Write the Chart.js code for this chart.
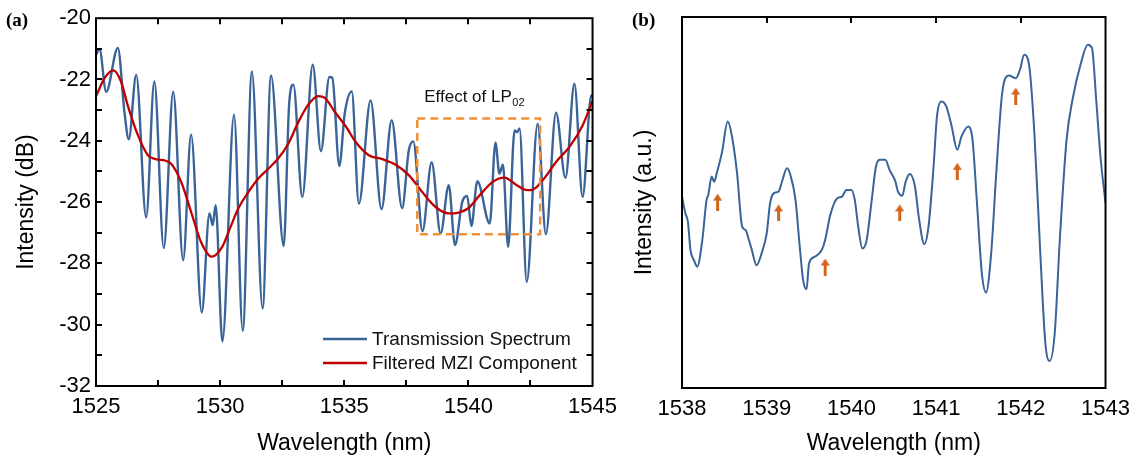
<!DOCTYPE html>
<html>
<head>
<meta charset="utf-8">
<script src="https://cdn.jsdelivr.net/npm/chart.js@4.4.1/dist/chart.umd.min.js"></script>
<style>
html,body{margin:0;padding:0;background:#fff;width:1138px;height:464px;overflow:hidden;}
#wa{position:absolute;left:0;top:0;width:625px;height:464px;}
#wb{position:absolute;left:600px;top:0;width:538px;height:464px;}
</style>
</head>
<body>
<div id="wa"><canvas id="ca"></canvas></div>
<div id="wb"><canvas id="cb"></canvas></div>
<script>
// ---------- Panel (a) data ----------
const wlA = [1525.00,1525.14,1525.41,1525.88,1526.15,1526.32,1526.62,1527.02,1527.35,1527.73,1528.11,1528.51,1528.83,1529.26,1529.57,1529.70,1529.82,1530.09,1530.56,1530.91,1531.28,1531.71,1532.05,1532.56,1532.78,1532.95,1533.31,1533.73,1534.06,1534.40,1534.52,1534.80,1535.02,1535.30,1535.59,1536.06,1536.50,1536.91,1537.33,1537.60,1537.78,1538.15,1538.52,1538.88,1539.21,1539.46,1539.75,1539.95,1540.12,1540.36,1540.86,1541.09,1541.25,1541.39,1541.60,1541.86,1541.96,1542.06,1542.35,1542.79,1543.12,1543.53,1543.91,1544.27,1544.60,1544.95,1545.00];
const transA = [-21.2,-21.0,-22.4,-20.97,-23.1,-23.95,-21.85,-26.5,-22.06,-27.5,-22.4,-27.9,-23.8,-29.6,-26.37,-26.75,-26.1,-30.55,-23.15,-30.2,-21.74,-29.47,-21.87,-27.43,-22.8,-22.17,-25.83,-21.52,-24.34,-21.92,-21.95,-24.82,-23.1,-22.39,-26.05,-22.68,-26.23,-23.33,-26.2,-24.31,-24.02,-26.95,-24.7,-27.02,-25.45,-27.4,-26.0,-25.8,-26.78,-25.32,-26.7,-24.06,-25.07,-24.78,-27.46,-23.66,-23.72,-23.6,-28.6,-23.44,-27.05,-23.08,-25.21,-22.14,-25.83,-22.52,-22.6];
const wlFilt = [1525.00,1525.35,1525.70,1526.00,1526.28,1526.68,1527.09,1527.40,1527.80,1528.02,1528.43,1528.83,1529.23,1529.66,1530.09,1530.40,1530.73,1531.14,1531.54,1531.94,1532.34,1532.75,1533.15,1533.55,1533.95,1534.22,1534.62,1535.08,1535.46,1535.99,1536.53,1537.07,1537.60,1538.14,1538.68,1539.21,1539.61,1540.00,1540.45,1540.98,1541.45,1541.92,1542.30,1542.53,1543.00,1543.53,1544.07,1544.60,1545.00];
const filtA = [-22.55,-21.95,-21.70,-22.05,-22.85,-23.80,-24.47,-24.60,-24.65,-24.74,-25.34,-26.32,-27.30,-27.78,-27.45,-26.85,-26.21,-25.67,-25.23,-24.91,-24.58,-24.09,-23.39,-22.82,-22.54,-22.60,-23.06,-23.55,-24.04,-24.47,-24.60,-24.78,-25.12,-25.67,-26.16,-26.37,-26.34,-26.20,-25.78,-25.34,-25.20,-25.43,-25.60,-25.61,-25.28,-24.69,-24.20,-23.50,-22.70];
const boxWl = [1537.94,1542.89,1542.89,1537.94,1537.94];
const boxDb = [-23.27,-23.27,-27.05,-27.05,-23.27];
const noteWl = 1538.22, noteDb = -22.74;
const seriesNames = ['Transmission Spectrum','Filtered MZI Component'];

// ---------- Panel (b) data ----------
const wlB = [1538.00,1538.04,1538.07,1538.10,1538.14,1538.18,1538.24,1538.29,1538.31,1538.35,1538.38,1538.41,1538.47,1538.54,1538.59,1538.65,1538.71,1538.75,1538.79,1538.82,1538.88,1538.94,1539.00,1539.04,1539.10,1539.14,1539.18,1539.24,1539.28,1539.34,1539.39,1539.43,1539.47,1539.50,1539.57,1539.65,1539.69,1539.75,1539.83,1539.89,1539.94,1540.00,1540.04,1540.08,1540.13,1540.18,1540.24,1540.29,1540.34,1540.40,1540.45,1540.52,1540.55,1540.60,1540.64,1540.69,1540.75,1540.80,1540.86,1540.91,1540.97,1541.01,1541.06,1541.12,1541.18,1541.25,1541.30,1541.38,1541.43,1541.48,1541.54,1541.59,1541.65,1541.71,1541.78,1541.86,1541.94,1541.99,1542.04,1542.10,1542.16,1542.23,1542.29,1542.34,1542.40,1542.46,1542.54,1542.61,1542.71,1542.79,1542.84,1542.89,1542.94,1543.00];
const intB = [51.6,47.1,44.8,37.2,34.5,32.7,39.9,50.7,52.0,57.0,55.6,57.9,63.3,71.8,67.8,57.9,43.5,42.6,39.9,37.6,33.1,36.3,41.7,49.8,52.7,52.9,55.6,59.2,57.4,50.7,38.1,29.1,26.6,33.6,35.4,37.2,39.9,46.6,51.1,51.6,53.4,53.4,50.7,43.5,37.6,39.9,50.7,59.7,61.5,61.5,58.8,55.6,52.9,51.8,55.6,57.7,54.3,45.3,38.8,43.5,59.7,73.2,77.2,75.9,70.9,64.2,67.8,70.5,66.9,50.7,30.9,25.7,36.3,57.9,79.5,84.2,83.5,85.8,89.8,86.7,68.7,36.3,12.0,7.3,14.7,39.9,66.9,77.7,87.6,92.5,91.6,77.7,62.4,49.8];
const arrowWl = [1538.42,1539.14,1539.69,1540.57,1541.25,1541.94];
const arrowInt = [50.1,47.2,32.6,47.2,58.4,78.7];

// ---------- styling ----------
const BLUE = '#3A6398', RED = '#C00000', ORANGE = '#F0913A', ARROW = '#D2651C';
const FONT = "'Liberation Sans', Arial, sans-serif";
Chart.defaults.font.family = FONT;
Chart.defaults.color = '#000';

const pts = (xs, ys) => xs.map((x, i) => ({x: x, y: ys[i]}));

function arrowImg() {
  const c = document.createElement('canvas');
  c.width = 9; c.height = 17;
  const g = c.getContext('2d');
  g.fillStyle = ARROW;
  g.beginPath(); g.moveTo(4.5, 0); g.lineTo(9, 7); g.lineTo(0, 7); g.closePath(); g.fill();
  g.fillRect(3, 6, 3, 11);
  return c;
}

function framePlugin(cfg) {
  return {
    id: 'frame',
    afterDraw(chart) {
      const {ctx, chartArea: a, scales} = chart;
      ctx.save();
      ctx.strokeStyle = '#000';
      ctx.lineWidth = 2;
      const L = 6;
      ctx.beginPath();
      scales.x.ticks.forEach(t => {
        const px = Math.round(scales.x.getPixelForValue(t.value));
        if (px <= a.left + 2 || px >= a.right - 2) return;
        if (cfg.xBottom) { ctx.moveTo(px, a.bottom); ctx.lineTo(px, a.bottom - L); }
        if (cfg.xTop) { ctx.moveTo(px, a.top); ctx.lineTo(px, a.top + L); }
      });
      if (cfg.yTicks) {
        scales.y.ticks.forEach(t => {
          const py = Math.round(scales.y.getPixelForValue(t.value));
          if (py <= a.top + 2 || py >= a.bottom - 2) return;
          ctx.moveTo(a.left, py); ctx.lineTo(a.left + L, py);
          ctx.moveTo(a.right, py); ctx.lineTo(a.right - L, py);
        });
      }
      ctx.stroke();
      ctx.strokeRect(a.left, a.top, a.right - a.left, a.bottom - a.top);
      // panel letter
      ctx.fillStyle = '#000';
      ctx.font = "bold 19px 'Liberation Serif', 'Times New Roman', serif";
      ctx.textBaseline = 'alphabetic';
      ctx.textAlign = 'left';
      ctx.fillText(cfg.letter, cfg.letterX, 26);
      if (cfg.extra) cfg.extra(chart);
      ctx.restore();
    }
  };
}

function extraA(chart) {
  const {ctx, scales} = chart;
  // note
  const nx = scales.x.getPixelForValue(noteWl), ny = scales.y.getPixelForValue(noteDb);
  ctx.fillStyle = '#111';
  ctx.font = '17px ' + FONT;
  ctx.textBaseline = 'alphabetic';
  ctx.fillText('Effect of LP', nx, ny);
  const w = ctx.measureText('Effect of LP').width;
  ctx.font = '11px ' + FONT;
  ctx.fillText('02', nx + w + 0.5, ny + 4);
  // legend
  const lx = 323, ly = [339, 363], cols = [BLUE, RED];
  ctx.lineWidth = 2.5;
  ctx.font = '19px ' + FONT;
  ctx.textBaseline = 'middle';
  for (let i = 0; i < 2; i++) {
    ctx.strokeStyle = cols[i];
    ctx.beginPath(); ctx.moveTo(lx, ly[i]); ctx.lineTo(lx + 44, ly[i]); ctx.stroke();
    ctx.fillStyle = '#111';
    ctx.fillText(seriesNames[i], lx + 49, ly[i] + 1);
  }
}

// ---------- Chart (a) ----------
new Chart(document.getElementById('ca'), {
  type: 'line',
  data: {
    datasets: [
      {label: seriesNames[0], data: pts(wlA, transA), borderColor: BLUE, borderWidth: 2.4, pointRadius: 0, cubicInterpolationMode: 'monotone', order: 3},
      {label: seriesNames[1], data: pts(wlFilt, filtA), borderColor: RED, borderWidth: 2.3, pointRadius: 0, cubicInterpolationMode: 'monotone', order: 2},
      {label: 'box', data: pts(boxWl, boxDb), borderColor: ORANGE, borderWidth: 2.5, borderDash: [8, 5], pointRadius: 0, tension: 0, order: 1}
    ]
  },
  options: {
    responsive: true, maintainAspectRatio: false, animation: false,
    layout: {padding: {left: 0, right: 32, top: 18, bottom: 0}},
    plugins: {legend: {display: false}, tooltip: {enabled: false}},
    scales: {
      x: {
        type: 'linear', min: 1525, max: 1545,
        ticks: {stepSize: 2.5, autoSkip: false, maxRotation: 0, padding: 8, font: {size: 22},
          callback: v => (Math.abs(v % 5) < 1e-6 ? String(v) : '')},
        grid: {display: false, drawTicks: false}, border: {display: false},
        title: {display: true, text: 'Wavelength (nm)', font: {size: 23}, padding: {top: 0, bottom: 7}},
        afterFit: s => { s.height = 78; }
      },
      y: {
        type: 'linear', min: -32, max: -20,
        ticks: {stepSize: 1, autoSkip: false, padding: 5, font: {size: 22},
          callback: v => (Math.abs(v % 2) < 1e-6 ? String(v) : '')},
        grid: {display: false, drawTicks: false}, border: {display: false},
        title: {display: true, text: 'Intensity (dB)', font: {size: 23}, padding: {top: 13, bottom: 0}},
        afterFit: s => { s.width = 96; }
      }
    }
  },
  plugins: [framePlugin({xBottom: true, xTop: true, yTicks: true, letter: '(a)', letterX: 6, extra: extraA})]
});

// ---------- Chart (b) ----------
new Chart(document.getElementById('cb'), {
  type: 'line',
  data: {
    datasets: [
      {label: 'spectrum', data: pts(wlB, intB), borderColor: BLUE, borderWidth: 2, pointRadius: 0, cubicInterpolationMode: 'monotone', order: 2},
      {type: 'scatter', label: 'arrows', data: pts(arrowWl, arrowInt), pointStyle: arrowImg(), pointRadius: 5, showLine: false, order: 1}
    ]
  },
  options: {
    responsive: true, maintainAspectRatio: false, animation: false,
    layout: {padding: {left: 0, right: 32, top: 17, bottom: 0}},
    plugins: {legend: {display: false}, tooltip: {enabled: false}},
    scales: {
      x: {
        type: 'linear', min: 1538, max: 1543,
        ticks: {stepSize: 1, autoSkip: false, maxRotation: 0, padding: 8, font: {size: 22},
          callback: v => String(v)},
        grid: {display: false, drawTicks: false}, border: {display: false},
        title: {display: true, text: 'Wavelength (nm)', font: {size: 23}, padding: {top: 0, bottom: 7}},
        afterFit: s => { s.height = 76; }
      },
      y: {
        type: 'linear', min: 0, max: 100,
        ticks: {display: false},
        grid: {display: false, drawTicks: false}, border: {display: false},
        title: {display: true, text: 'Intensity (a.u.)', font: {size: 23}, padding: {top: 31, bottom: 0}},
        afterFit: s => { s.width = 82; }
      }
    }
  },
  plugins: [framePlugin({xBottom: false, xTop: true, yTicks: false, letter: '(b)', letterX: 32})]
});
</script>
</body>
</html>
